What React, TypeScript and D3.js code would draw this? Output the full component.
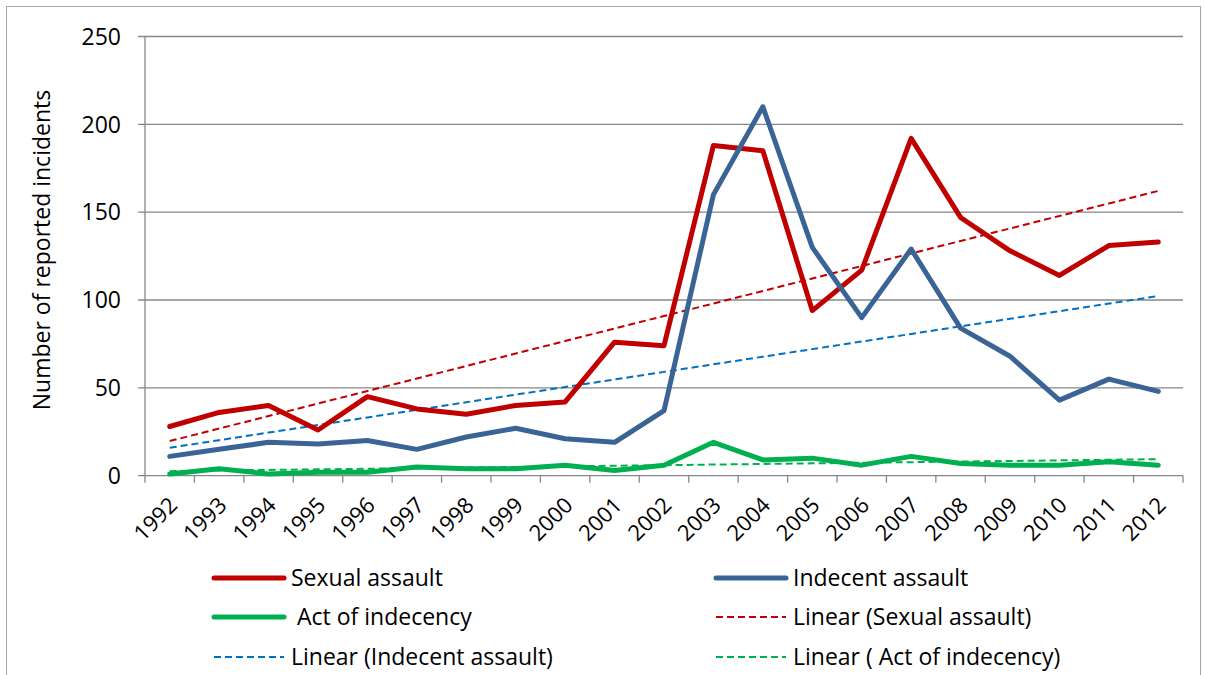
import React from "react";
import * as d3 from "d3";

const years = ["1992", "1993", "1994", "1995", "1996", "1997", "1998", "1999", "2000", "2001", "2002",
	"2003", "2004", "2005", "2006", "2007", "2008", "2009", "2010", "2011", "2012"];
const sexualAssault = [28, 36, 40, 26, 45, 38, 35, 40, 42, 76, 74, 188, 185, 94, 117, 192, 147, 128, 114, 131, 133];
const indecentAssault = [11, 15, 19, 18, 20, 15, 22, 27, 21, 19, 37, 160, 210, 130, 90, 129, 84, 68, 43, 55, 48];
const actOfIndecency = [1, 4, 1, 2, 2, 5, 4, 4, 6, 3, 6, 19, 9, 10, 6, 11, 7, 6, 6, 8, 6];
const yTicks = [0, 50, 100, 150, 200, 250];

const W = 1205;
const H = 675;
const margin = { left: 145, right: 1183, top: 36.5, bottom: 475.7 };
const FONT = "'Open Sans', 'Noto Sans', sans-serif";

// least squares fit over category index, same as an Excel linear trendline
function linearFit(vals: number[]) {
	const xs = vals.map((_, i) => i);
	const mx = d3.mean(xs)!;
	const my = d3.mean(vals)!;
	const slope = d3.sum(xs, (x, i) => (x - mx) * (vals[i] - my)) / d3.sum(xs, (x) => (x - mx) ** 2);
	const icpt = my - slope * mx;
	return xs.map((x) => icpt + slope * x);
}

const App: React.FC = () => {
	const x = d3.scaleBand().domain(years).range([margin.left, margin.right]).padding(0);
	const y = d3.scaleLinear().domain([0, 250]).range([margin.bottom, margin.top]);
	const cx = (i: number) => x(years[i])! + x.bandwidth() / 2;

	const line = d3.line<number>().x((_, i) => cx(i)).y((d) => y(d));

	const series = [
		{ name: "Sexual assault", data: sexualAssault, color: "#C00000", trend: "#C00000" },
		{ name: "Indecent assault", data: indecentAssault, color: "#3A6396", trend: "#0070C0" },
		{ name: " Act of indecency", data: actOfIndecency, color: "#00B050", trend: "#00B050" },
	];

	const legend = [
		{ label: "Sexual assault", color: "#C00000", dashed: false },
		{ label: "Indecent assault", color: "#3A6396", dashed: false },
		{ label: "\u00A0Act of indecency", color: "#00B050", dashed: false },
		{ label: "Linear (Sexual assault)", color: "#C00000", dashed: true },
		{ label: "Linear (Indecent assault)", color: "#0070C0", dashed: true },
		{ label: "Linear (\u00A0Act of indecency)", color: "#00B050", dashed: true },
	];
	const colX = [214, 716];
	const rowY = [578, 617, 657];

	const gridColor = "#878787";

	return (
		<svg width={W} height={H} style={{ position: "absolute", left: 0, top: 0, background: "#fff" }}
			fontFamily={FONT}>
			<rect x={6.5} y={6.5} width={1194} height={680} fill="none" stroke="#a6a6a6" strokeWidth={1} />

			{/* gridlines + y ticks */}
			{yTicks.map((t) => (
				<g key={t}>
					<line x1={margin.left - 7} x2={margin.right} y1={y(t)} y2={y(t)} stroke={gridColor} strokeWidth={1.3} />
					<text x={121} y={y(t)} dy="0.36em" textAnchor="end" fontSize={23} fill="#000">{t}</text>
				</g>
			))}
			<line x1={margin.left} x2={margin.left} y1={margin.top} y2={margin.bottom + 7} stroke={gridColor} strokeWidth={1.3} />

			{/* x ticks at category boundaries */}
			{years.map((yr) => (
				<line key={yr} x1={x(yr)! + x.bandwidth()} x2={x(yr)! + x.bandwidth()} y1={margin.bottom} y2={margin.bottom + 7}
					stroke={gridColor} strokeWidth={1.3} />
			))}
			{years.map((yr, i) => (
				<text key={"l" + yr} transform={`translate(${cx(i) - 2},${margin.bottom + 20}) rotate(-45)`}
					textAnchor="end" dy="0.7em" fontSize={22} fill="#000">{yr}</text>
			))}

			<text transform={`translate(50,250) rotate(-90)`} textAnchor="middle"
				fontSize={23} fill="#000">Number of reported incidents</text>

			{/* trend lines */}
			{series.map((s) => (
				<path key={"t" + s.name} d={line(linearFit(s.data))!} fill="none" stroke={s.trend} strokeWidth={2}
					strokeDasharray="7,4" />
			))}
			{/* data lines */}
			{series.map((s) => (
				<path key={s.name} d={line(s.data)!} fill="none" stroke={s.color} strokeWidth={5}
					strokeLinejoin="round" strokeLinecap="round" />
			))}

			{/* legend */}
			{legend.map((l, i) => {
				const lx = colX[i % 2];
				const ly = rowY[Math.floor(i / 2)];
				return (
					<g key={l.label}>
						<line x1={lx} x2={lx + 70} y1={ly} y2={ly} stroke={l.color}
							strokeWidth={l.dashed ? 2 : 5} strokeDasharray={l.dashed ? "7,4" : undefined}
							strokeLinecap={l.dashed ? "butt" : "round"} />
						<text x={lx + 77} y={ly} dy="0.36em" fontSize={23} fill="#000">{l.label}</text>
					</g>
				);
			})}
		</svg>
	);
};

export default App;
